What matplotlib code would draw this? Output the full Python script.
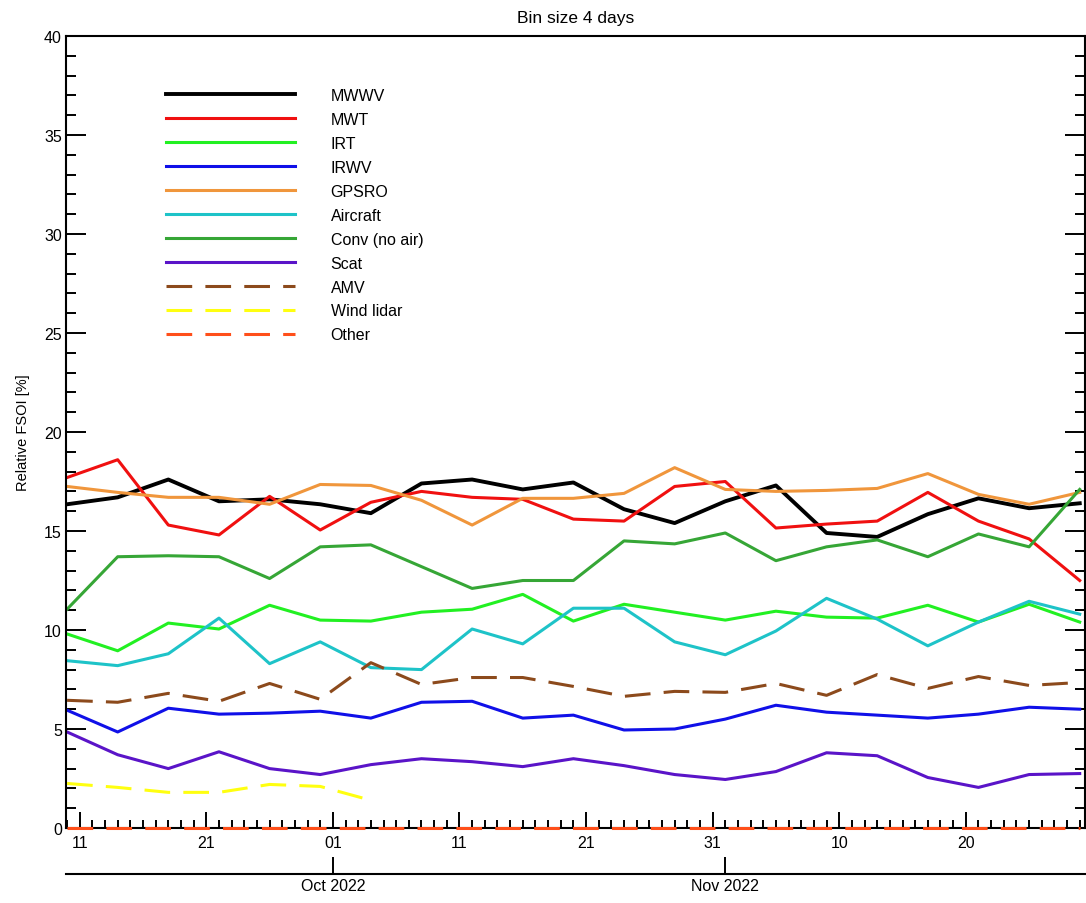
import numpy as np
import matplotlib
matplotlib.use('Agg')
import matplotlib.pyplot as plt
import matplotlib.dates as mdates

plt.rcParams['font.family'] = ['Liberation Sans', 'DejaVu Sans']
plt.rcParams['lines.scale_dashes'] = False

# bins of 4 days starting 10 Sep 2022
dates = np.datetime64('2022-09-10') + np.arange(21) * np.timedelta64(4, 'D')

mwwv = [16.35, 16.7, 17.6, 16.5, 16.6, 16.35, 15.9, 17.4, 17.6, 17.1, 17.45,
        16.1, 15.4, 16.5, 17.3, 14.9, 14.7, 15.85, 16.65, 16.15, 16.4]
mwt = [17.7, 18.6, 15.3, 14.8, 16.75, 15.05, 16.45, 17.0, 16.7, 16.6, 15.6,
       15.5, 17.25, 17.5, 15.15, 15.35, 15.5, 16.95, 15.5, 14.6, 12.5]
irt = [9.8, 8.95, 10.35, 10.05, 11.25, 10.5, 10.45, 10.9, 11.05, 11.8, 10.45,
       11.3, 10.9, 10.5, 10.95, 10.65, 10.6, 11.25, 10.4, 11.3, 10.4]
irwv = [5.95, 4.85, 6.05, 5.75, 5.8, 5.9, 5.55, 6.35, 6.4, 5.55, 5.7,
        4.95, 5.0, 5.5, 6.2, 5.85, 5.7, 5.55, 5.75, 6.1, 6.0]
gpsro = [17.25, 16.95, 16.7, 16.7, 16.35, 17.35, 17.3, 16.55, 15.3, 16.65, 16.65,
         16.9, 18.2, 17.1, 17.0, 17.05, 17.15, 17.9, 16.85, 16.35, 16.95]
aircraft = [8.45, 8.2, 8.8, 10.6, 8.3, 9.4, 8.1, 8.0, 10.05, 9.3, 11.1,
            11.1, 9.4, 8.75, 9.95, 11.6, 10.55, 9.2, 10.4, 11.45, 10.8]
conv = [11.05, 13.7, 13.75, 13.7, 12.6, 14.2, 14.3, 13.2, 12.1, 12.5, 12.5,
        14.5, 14.35, 14.9, 13.5, 14.2, 14.55, 13.7, 14.85, 14.2, 17.1]
scat = [4.85, 3.7, 3.0, 3.85, 3.0, 2.7, 3.2, 3.5, 3.35, 3.1, 3.5,
        3.15, 2.7, 2.45, 2.85, 3.8, 3.65, 2.55, 2.05, 2.7, 2.75]
amv = [6.45, 6.35, 6.8, 6.4, 7.3, 6.5, 8.35, 7.25, 7.6, 7.6, 7.15,
       6.65, 6.9, 6.85, 7.3, 6.7, 7.75, 7.05, 7.65, 7.2, 7.35]
wind_lidar = [2.25, 2.05, 1.8, 1.8, 2.2, 2.1, 1.4] + [np.nan] * 14
other = [0.0] * 21

series = [
    ('MWWV', mwwv, 'black', '-', 2.8),
    ('MWT', mwt, '#f01010', '-', 2.2),
    ('IRT', irt, '#22f022', '-', 2.2),
    ('IRWV', irwv, '#1010e8', '-', 2.2),
    ('GPSRO', gpsro, '#f0963c', '-', 2.2),
    ('Aircraft', aircraft, '#1ec3c8', '-', 2.2),
    ('Conv (no air)', conv, '#36a636', '-', 2.2),
    ('Scat', scat, '#5a14c8', '-', 2.2),
    ('AMV', amv, '#8c4a1c', '--', 2.2),
    ('Wind lidar', wind_lidar, '#ffff10', '--', 2.2),
    ('Other', other, '#ff4f1a', '--', 2.2),
]

fig = plt.figure(figsize=(10.86, 9.04), dpi=100)
ax = fig.add_axes([66 / 1086, 1 - 829 / 904, 1019 / 1086, 792 / 904])

for name, vals, col, ls, lw in series:
    if ls == '--':
        ax.plot(dates, vals, color=col, lw=lw, label=name, dashes=(18.5, 9.5),
                clip_on=(name != 'Other'), zorder=3)
    else:
        ax.plot(dates, vals, color=col, lw=lw, label=name, zorder=2)

ax.set_xlim(np.datetime64('2022-09-09T22:00'), np.datetime64('2022-11-29T10:00'))
ax.set_ylim(0, 40)
ax.set_yticks(np.arange(0, 41, 5))
ax.set_yticks(np.arange(0, 41, 1), minor=True)

major_days = np.datetime64('2022-09-11') + np.arange(8) * np.timedelta64(10, 'D')
ax.set_xticks(major_days)
ax.xaxis.set_major_formatter(mdates.DateFormatter('%d'))
ax.xaxis.set_minor_locator(mdates.DayLocator())

ax.tick_params(axis='both', which='both', direction='in', top=True, right=True,
               width=1.4, labelsize=11.5, colors='black')
ax.tick_params(axis='x', which='major', length=11.5, pad=5)
ax.tick_params(axis='x', which='minor', length=5.8)
ax.tick_params(axis='y', which='major', length=14.4, pad=3)
ax.tick_params(axis='y', which='minor', length=7.2)
ax.tick_params(labeltop=False, labelright=False)
for sp in ax.spines.values():
    sp.set_linewidth(1.5)

# month axis underneath
ax2 = ax.twiny()
ax2.set_xlim(ax.get_xlim())
for s in ['top', 'left', 'right']:
    ax2.spines[s].set_visible(False)
ax2.spines['bottom'].set_position(('outward', 33))
ax2.spines['bottom'].set_linewidth(1.5)
ax2.xaxis.set_ticks_position('bottom')
ax2.xaxis.set_label_position('bottom')
ax2.set_xticks([np.datetime64('2022-10-01'), np.datetime64('2022-11-01')])
ax2.set_xticklabels(['Oct 2022', 'Nov 2022'])
ax2.tick_params(axis='x', direction='in', length=12, width=1.4, labelsize=11.5, pad=3)

ax.set_title('Bin size 4 days', fontsize=12.5, pad=10)
ax.set_ylabel('Relative FSOI [%]', fontsize=10.5, labelpad=10)

ax.legend(loc='upper left', bbox_to_anchor=(166 / 1086, 1 - 89 / 904),
          bbox_transform=fig.transFigure, frameon=False, fontsize=11.5,
          handlelength=8.1, handletextpad=2.2, labelspacing=0.56,
          borderpad=0, borderaxespad=0)

fig.savefig('out.png', dpi=100)
